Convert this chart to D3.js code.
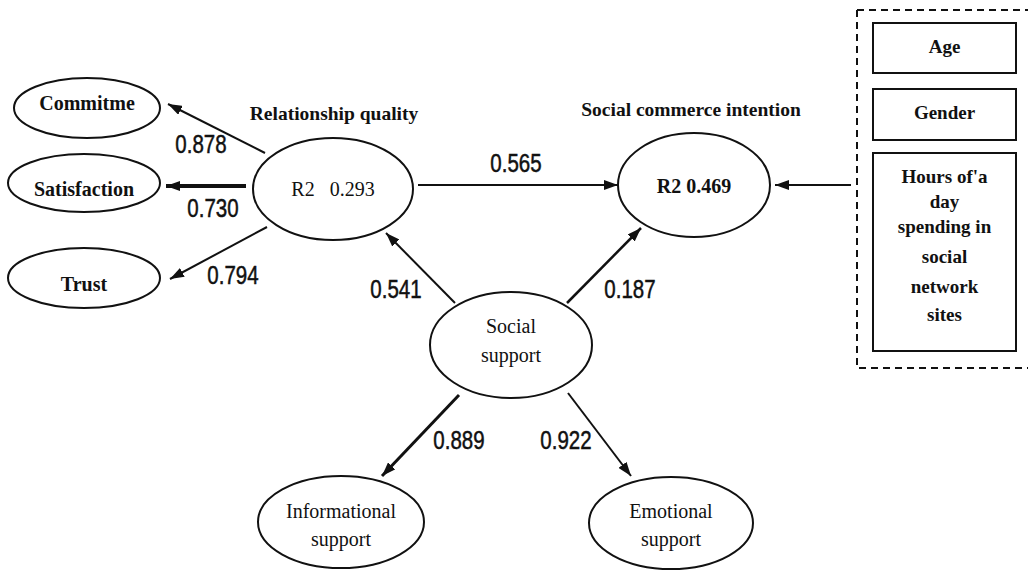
<!DOCTYPE html>
<html>
<head>
<meta charset="utf-8">
<script src="https://cdn.jsdelivr.net/npm/d3@7"></script>
<style>
  body { margin: 0; background: #fff; }
  svg text { fill: #111; }
</style>
</head>
<body>
<div id="graphicContainer"></div>
<script>
// ---- data ----
var indicatorNames = ["Commitme", "Satisfaction", "Trust"]
var loadingsRQ = [0.878, 0.730, 0.794]
var supportNames = [["Informational", "support"], ["Emotional", "support"]]
var loadingsSS = [0.889, 0.922]
var constructNames = ["Relationship quality", "Social commerce intention", ["Social", "support"]]
var r2Values = [0.293, 0.469]
var pathCoefs = [0.565, 0.541, 0.187]   // RQ->SCI, SS->RQ, SS->SCI
var controlNames = [["Age"], ["Gender"], ["Hours of'a", "day", "spending in", "social", "network", "sites"]]

// ---- layout ----
var width = 1028, height = 572
var fmt = d3.format(".3f")
var serif = "'Liberation Serif', 'Times New Roman', serif"
var sans = "'Liberation Sans', Arial, sans-serif"

var pos = {
	commit: {x: 87, y: 108, rx: 73, ry: 30},
	satis:  {x: 84, y: 183, rx: 76, ry: 29},
	trust:  {x: 84, y: 278, rx: 76, ry: 30},
	rq:     {x: 333, y: 189, rx: 80, ry: 51},
	sci:    {x: 694, y: 185, rx: 76, ry: 52},
	ss:     {x: 511, y: 345, rx: 81, ry: 53},
	info:   {x: 341, y: 522, rx: 83, ry: 46},
	emo:    {x: 671, y: 523, rx: 82, ry: 46}
}

var svg = d3.select("#graphicContainer").append("svg")
	.attr("width", width)
	.attr("height", height)

svg.append("defs").append("marker")
	.attr("id", "head")
	.attr("viewBox", "0 0 14 10")
	.attr("refX", 14).attr("refY", 5)
	.attr("markerWidth", 14).attr("markerHeight", 10)
	.attr("markerUnits", "userSpaceOnUse")
	.attr("orient", "auto")
	.append("path")
	.attr("d", "M0,0 L14,5 L0,10 Z")
	.attr("fill", "#111")

// edges: start point, tip point, label position
var edges = [
	{from: [265, 153], to: [168, 104], w: 2, v: loadingsRQ[0], lx: 201, ly: 153},
	{from: [246, 186], to: [166, 186], w: 4, v: loadingsRQ[1], lx: 213, ly: 217},
	{from: [267, 227], to: [170, 279], w: 2, v: loadingsRQ[2], lx: 233, ly: 284},
	{from: [418, 185], to: [618, 185], w: 2, v: pathCoefs[0], lx: 516, ly: 172},
	{from: [455, 303], to: [386, 233], w: 2, v: pathCoefs[1], lx: 396, ly: 298},
	{from: [567, 303], to: [641, 228], w: 2.5, v: pathCoefs[2], lx: 630, ly: 298},
	{from: [459, 395], to: [382, 476], w: 3, v: loadingsSS[0], lx: 459, ly: 449},
	{from: [568, 393], to: [631, 476], w: 2, v: loadingsSS[1], lx: 566, ly: 449},
	{from: [851, 185], to: [775, 185], w: 2, v: null}
]

svg.append("g").selectAll("line")
	.data(edges).enter()
	.append("line")
	.attr("x1", d => d.from[0]).attr("y1", d => d.from[1])
	.attr("x2", d => d.to[0]).attr("y2", d => d.to[1])
	.attr("stroke", "#111")
	.attr("stroke-width", d => d.w)
	.attr("marker-end", "url(#head)")

// coefficient labels: condensed sans, like the original
svg.append("g").selectAll("text")
	.data(edges.filter(d => d.v !== null)).enter()
	.append("text")
	.attr("transform", d => "translate(" + d.lx + "," + d.ly + ") scale(0.82,1)")
	.attr("text-anchor", "middle")
	.style("font-family", sans)
	.style("font-size", "25px")
	.style("stroke", "#111")
	.style("stroke-width", "0.5px")
	.text(d => fmt(d.v))

// ellipses
var ellipses = [
	{p: pos.commit, lines: [indicatorNames[0]], bold: true, ty: [110]},
	{p: pos.satis, lines: [indicatorNames[1]], bold: true, ty: [196]},
	{p: pos.trust, lines: [indicatorNames[2]], bold: true, ty: [291]},
	{p: pos.rq, lines: ["R2   " + fmt(r2Values[0])], bold: false, ty: [196]},
	{p: pos.sci, lines: ["R2 " + fmt(r2Values[1])], bold: true, ty: [193]},
	{p: pos.ss, lines: constructNames[2], bold: false, ty: [333, 362]},
	{p: pos.info, lines: supportNames[0], bold: false, ty: [518, 546]},
	{p: pos.emo, lines: supportNames[1], bold: false, ty: [518, 546]}
]

var eg = svg.append("g").selectAll("g")
	.data(ellipses).enter()
	.append("g")

eg.append("ellipse")
	.attr("cx", d => d.p.x).attr("cy", d => d.p.y)
	.attr("rx", d => d.p.rx).attr("ry", d => d.p.ry)
	.attr("fill", "none")
	.attr("stroke", "#111")
	.attr("stroke-width", 2)

eg.each(function(d) {
	var g = d3.select(this)
	d.lines.forEach(function(t, i) {
		g.append("text")
			.attr("x", d.p.x).attr("y", d.ty[i])
			.attr("text-anchor", "middle")
			.style("font-family", serif)
			.style("font-size", "20px")
			.style("font-weight", d.bold ? "bold" : "normal")
			.style("white-space", "pre")
			.text(t)
	})
})

// construct titles
svg.append("text")
	.attr("x", 334).attr("y", 120)
	.attr("text-anchor", "middle")
	.style("font-family", serif).style("font-size", "19.5px").style("font-weight", "bold")
	.text(constructNames[0])

svg.append("text")
	.attr("x", 691).attr("y", 116)
	.attr("text-anchor", "middle")
	.style("font-family", serif).style("font-size", "19.5px").style("font-weight", "bold")
	.text(constructNames[1])

// control variables
svg.append("path")
	.attr("d", "M857,10 L1028,10 M857,10 L857,368 L1028,368")
	.attr("fill", "none")
	.attr("stroke", "#111")
	.attr("stroke-width", 2)
	.attr("stroke-dasharray", "7,5")

var boxes = [
	{y0: 23, y1: 73, ty: [53]},
	{y0: 89, y1: 140, ty: [119]},
	{y0: 153, y1: 351, ty: [183, 208, 233, 263, 293, 321]}
]

boxes.forEach(function(b, i) {
	svg.append("rect")
		.attr("x", 873).attr("y", b.y0)
		.attr("width", 143).attr("height", b.y1 - b.y0)
		.attr("fill", "none")
		.attr("stroke", "#111")
		.attr("stroke-width", 2)
	controlNames[i].forEach(function(t, j) {
		svg.append("text")
			.attr("x", 944.5).attr("y", b.ty[j])
			.attr("text-anchor", "middle")
			.style("font-family", serif).style("font-size", "19px").style("font-weight", "bold")
			.text(t)
	})
})
</script>
</body>
</html>
